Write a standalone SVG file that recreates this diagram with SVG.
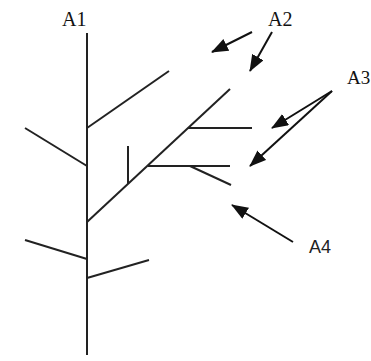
<svg xmlns="http://www.w3.org/2000/svg" width="371" height="361" viewBox="0 0 371 361">
<defs>
<style>
.b{stroke:#222;stroke-width:2;fill:none;stroke-linecap:butt}
.a{stroke:#111;stroke-width:2;fill:none}
.s{font-family:"Liberation Serif",serif;font-size:20px;fill:#111}
.ss{font-family:"Liberation Sans",sans-serif;font-size:18px;fill:#222}
</style>
<marker id="ah" markerUnits="userSpaceOnUse" markerWidth="17" markerHeight="13" refX="16" refY="6.5" orient="auto">
<path d="M0,0 L17,6.5 L0,13 Z" fill="#111"/>
</marker>
</defs>
<rect width="371" height="361" fill="#fff"/>
<g id="plant">
<line class="b" x1="87" y1="33" x2="87" y2="355"/>
<line class="b" x1="87" y1="128" x2="169" y2="71"/>
<line class="b" x1="25" y1="128" x2="87" y2="166"/>
<line class="b" x1="87" y1="222" x2="230" y2="89"/>
<line class="b" x1="128" y1="146" x2="128" y2="184"/>
<line class="b" x1="188" y1="128" x2="252" y2="128"/>
<line class="b" x1="148" y1="166" x2="230" y2="166"/>
<line class="b" x1="190" y1="166" x2="231" y2="185"/>
<line class="b" x1="25" y1="240" x2="87" y2="259"/>
<line class="b" x1="87" y1="278" x2="149" y2="260"/>
</g>
<g id="labels">
<text class="s" x="62" y="26">A1</text>
<text class="s" x="268" y="26">A2</text>
<text class="s" x="347" y="84" style="font-size:19px">A3</text>
<text class="ss" x="309" y="253">A4</text>
</g>
<g id="connectors">
<line class="a" x1="252" y1="32" x2="212" y2="52" marker-end="url(#ah)"/>
<line class="a" x1="272" y1="32" x2="250" y2="71" marker-end="url(#ah)"/>
<line class="a" x1="332" y1="91" x2="272" y2="128" marker-end="url(#ah)"/>
<line class="a" x1="332" y1="91" x2="250" y2="166" marker-end="url(#ah)"/>
<line class="a" x1="293" y1="242" x2="232" y2="205" marker-end="url(#ah)"/>
</g>
</svg>
